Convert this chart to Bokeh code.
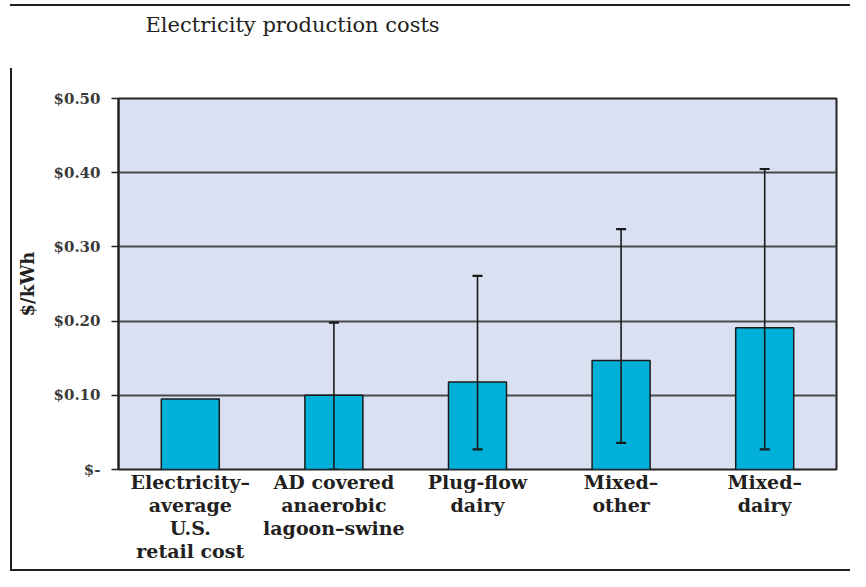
from bokeh.plotting import figure
from bokeh.models import (FactorRange, Range1d, FixedTicker, ColumnDataSource,
                          Whisker, TeeHead, LinearAxis)
from bokeh.embed import file_html
from bokeh.resources import INLINE

# ---------------- data ----------------
categories = ["Electricity–\naverage\nU.S.\nretail cost",
              "AD covered\nanaerobic\nlagoon–swine",
              "Plug-flow\ndairy",
              "Mixed–\nother",
              "Mixed–\ndairy"]
costs = [0.095, 0.100, 0.118, 0.147, 0.191]
err_low = [None, 0.000, 0.027, 0.036, 0.027]
err_high = [None, 0.198, 0.261, 0.324, 0.405]
y_ticks = [0.0, 0.1, 0.2, 0.3, 0.4, 0.5]
y_tick_labels = ["$-", "$0.10", "$0.20", "$0.30", "$0.40", "$0.50"]
title_text = "Electricity production costs"
y_title = "$/kWh"

# ---------------- layout constants ----------------
W, H = 850, 571
LEFT, RIGHT, TOP, BOTTOM = 118, 14, 98, 102
FONT = "DejaVu Serif"
INK = "#231f20"
RULE = "#1e1e1e"

p = figure(width=W, height=H, output_backend="svg", toolbar_location=None,
           x_range=FactorRange(factors=categories, range_padding=0),
           y_range=Range1d(0, 0.5),
           min_border_left=LEFT, min_border_right=RIGHT,
           min_border_top=TOP, min_border_bottom=BOTTOM,
           title=title_text)

p.background_fill_color = "#d9e0f1"
p.border_fill_color = None
p.outline_line_color = "#222222"
p.outline_line_width = 2

# invisible spacer axis above the frame (one hidden tick, empty label):
# it only reserves room so that the outermost title sits higher
spacer = LinearAxis(ticker=FixedTicker(ticks=[0.5]),
                    major_label_overrides={0.5: ""},
                    major_label_text_font_size="1px",
                    major_label_text_alpha=0,
                    axis_line_color=None, major_tick_line_color=None,
                    minor_tick_line_color=None, major_tick_in=0,
                    major_tick_out=62, minor_tick_out=0,
                    major_label_standoff=0)
p.add_layout(spacer, "above")

# title
p.title.align = "left"
p.title.offset = 27
p.title.standoff = 0
p.title.text_font = FONT
p.title.text_font_style = "normal"
p.title.text_font_size = "21px"
p.title.text_color = INK

# decorative document rules (CSS background of the figure element)
p.styles = {
    "background-image": ("linear-gradient(%s,%s), linear-gradient(%s,%s), "
                         "linear-gradient(%s,%s)") % ((RULE,) * 6),
    "background-size": "840px 2px, 2px 503px, 840px 2px",
    "background-position": "10px 4px, 10px 68px, 10px 569px",
    "background-repeat": "no-repeat",
}

# grid
p.xgrid.grid_line_color = None
p.ygrid.ticker = FixedTicker(ticks=y_ticks)
p.ygrid.grid_line_color = "#4a4a4a"
p.ygrid.grid_line_width = 1.8

# y axis
ya = p.yaxis[0]
ya.ticker = FixedTicker(ticks=y_ticks)
ya.major_label_overrides = {t: l for t, l in zip(y_ticks, y_tick_labels)}
ya.minor_tick_line_color = None
ya.major_tick_in = 0
ya.major_tick_out = 7
ya.major_tick_line_width = 1.5
ya.major_tick_line_color = "#222222"
ya.axis_line_color = "#222222"
ya.axis_line_width = 2
ya.major_label_standoff = 11
ya.major_label_text_font = FONT
ya.major_label_text_font_style = "bold"
ya.major_label_text_font_size = "15px"
ya.major_label_text_color = "#3a3a3a"
ya.axis_label = y_title
ya.axis_label_text_font = FONT
ya.axis_label_text_font_style = "bold"
ya.axis_label_text_font_size = "18px"
ya.axis_label_text_color = INK
ya.axis_label_standoff = 13

# x axis
xa = p.below[0]
xa.axis_line_color = None
xa.major_tick_line_color = None
xa.minor_tick_line_color = None
xa.major_tick_out = 0
xa.major_label_standoff = 1
xa.major_label_text_font = FONT
xa.major_label_text_font_style = "bold"
xa.major_label_text_font_size = "19px"
xa.major_label_text_color = INK
xa.major_label_text_line_height = 1.05

# bars
p.vbar(x=categories, top=costs, width=0.404, fill_color="#00b0d8",
       line_color="#1a1a1a", line_width=1.5)

# error bars
idx = [i for i, v in enumerate(err_high) if v is not None]
esrc = ColumnDataSource(data=dict(base=[categories[i] for i in idx],
                                  lower=[err_low[i] for i in idx],
                                  upper=[err_high[i] for i in idx]))
wh = Whisker(base="base", lower="lower", upper="upper", source=esrc,
             line_color="#1a1a1a", line_width=1.6, level="annotation",
             upper_head=TeeHead(size=10, line_width=2.2, line_color="#1a1a1a"),
             lower_head=TeeHead(size=10, line_width=2.2, line_color="#1a1a1a"))
p.add_layout(wh)

open("out.html", "w").write(file_html(p, INLINE))
